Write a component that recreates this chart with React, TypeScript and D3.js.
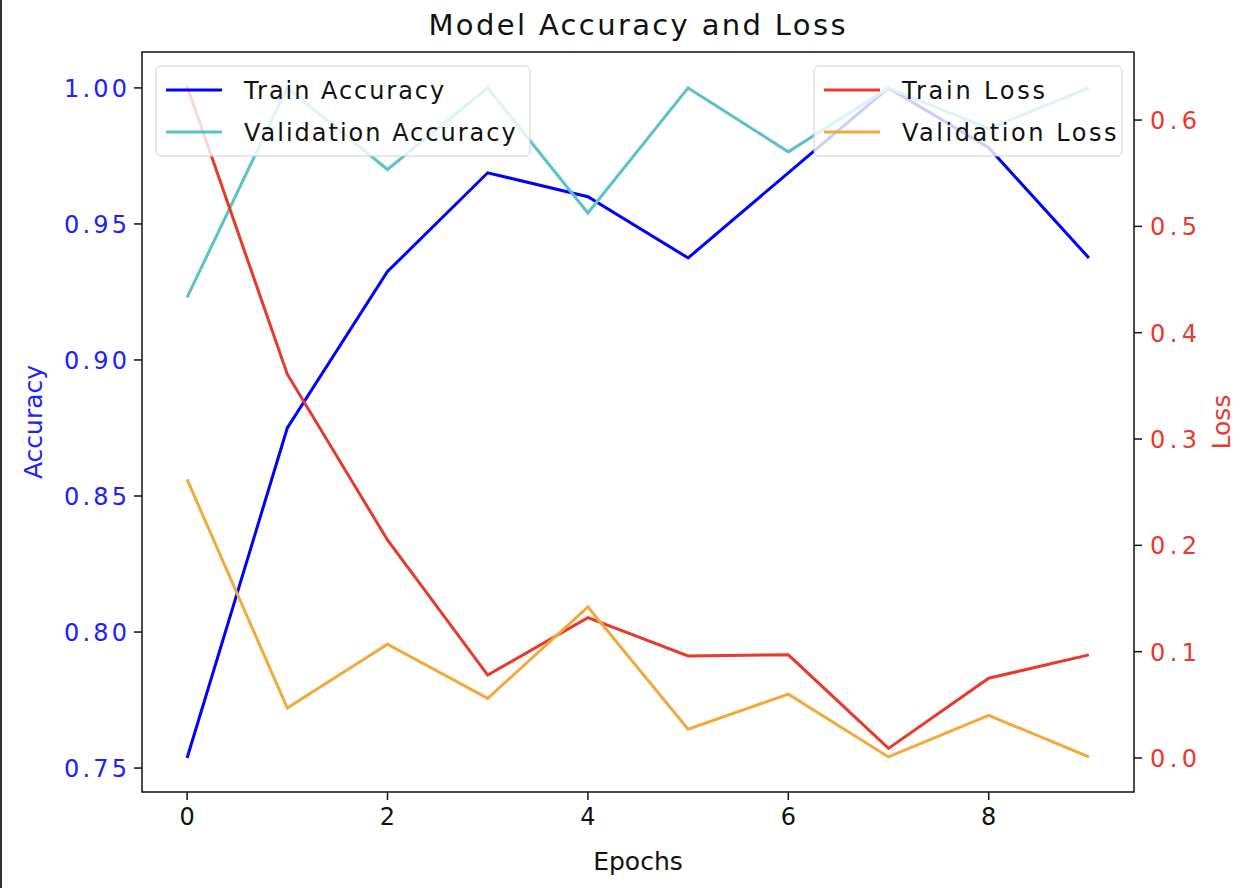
import * as d3 from "d3";

const epochs = [0, 1, 2, 3, 4, 5, 6, 7, 8, 9];
const trainAcc = [0.7537, 0.875, 0.9325, 0.9688, 0.96, 0.9375, 0.9688, 1.0, 0.978, 0.9375];
const valAcc = [0.923, 1.0, 0.97, 1.0, 0.954, 1.0, 0.9765, 1.0, 0.985, 1.0];
const trainLoss = [0.632, 0.361, 0.205, 0.078, 0.132, 0.096, 0.097, 0.009, 0.075, 0.097];
const valLoss = [0.262, 0.047, 0.107, 0.056, 0.142, 0.027, 0.06, 0.001, 0.04, 0.001];
const xTicks = [0, 2, 4, 6, 8];
const accTicks = [0.75, 0.8, 0.85, 0.9, 0.95, 1.0];
const lossTicks = [0, 0.1, 0.2, 0.3, 0.4, 0.5, 0.6];

const W = 1248, H = 888;
const L = 142, R = 1134, T = 52, B = 792;
const font = "DejaVu Sans, sans-serif";

export default function App() {
  const x = d3.scaleLinear().domain([-0.45, 9.45]).range([L, R]);
  const yA = d3.scaleLinear().domain([0.7412, 1.0132]).range([B, T]);
  const yL = d3.scaleLinear().domain([-0.032, 0.664]).range([B, T]);
  const lineA = d3.line<number>().x((_, i) => x(epochs[i])).y((d) => yA(d));
  const lineL = d3.line<number>().x((_, i) => x(epochs[i])).y((d) => yL(d));

  const series = [
    { d: lineA(trainAcc), c: "#0000ff" },
    { d: lineA(valAcc), c: "#5bc2c6" },
    { d: lineL(trainLoss), c: "#e8392c" },
    { d: lineL(valLoss), c: "#f2a93b" },
  ];

  const legend = (x0: number, w: number, items: { t: string; c: string }[]) => (
    <g>
      <rect x={x0} y={66} width={w} height={90} rx={5} fill="white" fillOpacity={0.8} stroke="#d0d0d0" />
      {items.map((it, i) => (
        <g key={i}>
          <line x1={x0 + 10} x2={x0 + 66} y1={90 + i * 42} y2={90 + i * 42} stroke={it.c} strokeWidth={3} />
          <text x={x0 + 88} y={99 + i * 42} fontSize={24} textLength={it.t.length * 14.3} fill="#111">{it.t}</text>
        </g>
      ))}
    </g>
  );

  return (
    <svg width={W} height={H} style={{ position: "absolute", left: 0, top: 0, background: "white" }} fontFamily={font}>
      <line x1={1} x2={1} y1={0} y2={H} stroke="#333" strokeWidth={2} />
      <text x={(L + R) / 2 - 1} y={35} textAnchor="middle" fontSize={29} textLength={417} fill="#111">Model Accuracy and Loss</text>
      {series.map((s, i) => (
        <path key={i} d={s.d ?? ""} fill="none" stroke={s.c} strokeWidth={3} />
      ))}
      <rect x={L} y={T} width={R - L} height={B - T} fill="none" stroke="#111" strokeWidth={1.5} />
      {xTicks.map((t) => (
        <g key={t}>
          <line x1={x(t)} x2={x(t)} y1={B} y2={B + 8} stroke="#111" strokeWidth={1.5} />
          <text x={x(t)} y={B + 33} textAnchor="middle" fontSize={24} fill="#111">{t}</text>
        </g>
      ))}
      {accTicks.map((t) => (
        <g key={t}>
          <line x1={L - 8} x2={L} y1={yA(t)} y2={yA(t)} stroke="#111" strokeWidth={1.5} />
          <text x={L - 15} y={yA(t) + 9} textAnchor="end" fontSize={24} textLength={63} fill="#2020ff">{t.toFixed(2)}</text>
        </g>
      ))}
      {lossTicks.map((t) => (
        <g key={t}>
          <line x1={R} x2={R + 8} y1={yL(t)} y2={yL(t)} stroke="#111" strokeWidth={1.5} />
          <text x={R + 16} y={yL(t) + 9} textAnchor="start" fontSize={24} textLength={47} fill="#e8392c">{t.toFixed(1)}</text>
        </g>
      ))}
      <text x={(L + R) / 2} y={870} textAnchor="middle" fontSize={25} fill="#111">Epochs</text>
      <text transform={`translate(42,${(T + B) / 2}) rotate(-90)`} textAnchor="middle" fontSize={25} fill="#2020ff">Accuracy</text>
      <text transform={`translate(1230,${(T + B) / 2}) rotate(-90)`} textAnchor="middle" fontSize={25} fill="#e8392c">Loss</text>
      {legend(156, 374, [{ t: "Train Accuracy", c: "#0000ff" }, { t: "Validation Accuracy", c: "#5bc2c6" }])}
      {legend(814, 308, [{ t: "Train Loss", c: "#e8392c" }, { t: "Validation Loss", c: "#f2a93b" }])}
    </svg>
  );
}
